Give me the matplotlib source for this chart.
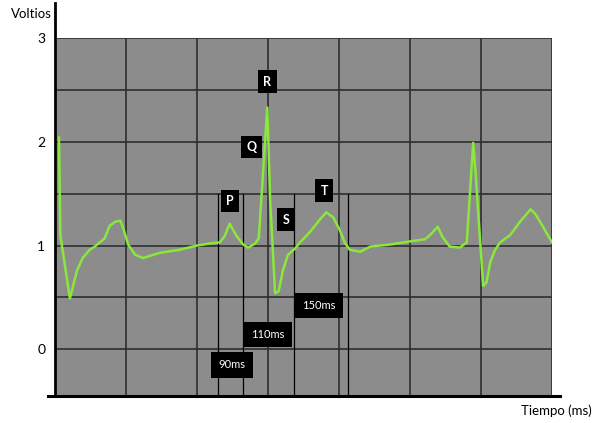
import numpy as np
import matplotlib.pyplot as plt
from matplotlib.lines import Line2D

# ECG trace (x in grid units of 100, volts)
t_ms = [5.6, 7.5, 21, 31, 39, 49, 56, 70, 77, 85, 92, 96, 103, 113, 124, 148, 176, 200,
        218, 232, 239, 246, 251, 256, 265, 272, 282, 287, 299, 303, 310, 315, 321, 328,
        338, 345, 359, 373, 382, 392, 401, 408, 415, 430, 444, 472, 500, 521, 528, 539,
        546, 556, 570, 580, 589, 593, 603, 608, 613, 620, 627, 641, 655, 670, 677, 690, 700]
volts = [2.04, 1.10, 0.49, 0.76, 0.88, 0.96, 0.99, 1.07, 1.19, 1.23, 1.24, 1.17, 1.01, 0.91,
         0.88, 0.93, 0.96, 1.00, 1.02, 1.03, 1.09, 1.21, 1.15, 1.09, 1.01, 0.98, 1.02, 1.07,
         2.33, 1.44, 0.54, 0.56, 0.76, 0.91, 0.97, 1.03, 1.13, 1.25, 1.32, 1.27, 1.15, 1.03,
         0.96, 0.94, 0.99, 1.01, 1.04, 1.06, 1.10, 1.18, 1.08, 0.99, 0.98, 1.03, 1.99, 1.64,
         0.61, 0.65, 0.84, 0.96, 1.03, 1.10, 1.23, 1.35, 1.30, 1.15, 1.03]

wave_names = ['R', 'Q', 'P', 'S', 'T']
wave_x = [299, 277, 246, 325, 379]
wave_y = [2.58, 1.95, 1.43, 1.25, 1.53]

interval_names = ['150ms', '110ms', '90ms']
interval_x = [372, 300, 249]
interval_y = [0.42, 0.14, -0.15]

marker_x = [230, 265, 337, 413]

W, H = 597, 423
fig = plt.figure(figsize=(W / 100, H / 100), dpi=100)
ax = fig.add_axes([55 / W, (H - 396) / H, (552 - 55) / W, (396 - 38) / H])
ax.set_facecolor('#8c8c8c')
ax.set_xlim(0, 700)
ax.set_ylim(-0.45, 3)

ax.set_xticks(range(0, 701, 100))
ax.set_yticks([0, 1, 2, 3])
ax.set_yticks(np.arange(0, 3.01, 0.5), minor=True)
ax.set_yticklabels(['0', '1', '2', '3'], fontsize=10, family='Lato')
ax.set_xticklabels([])
ax.tick_params(length=0, pad=7)
ax.tick_params(which='minor', length=0)
ax.grid(True, which='both', color='#2e2e2e', linewidth=1.2)
ax.set_axisbelow(True)
for s in ax.spines.values():
    s.set_visible(False)

for mx in marker_x:
    ax.plot([mx, mx], [1.5, -0.45], color='black', linewidth=0.9)

ax.plot(t_ms, volts, color='#8ae83c', linewidth=1.8, solid_joinstyle='round')

box = dict(boxstyle='square,pad=0.42', facecolor='black', edgecolor='none')
for name, x, y in zip(wave_names, wave_x, wave_y):
    ax.text(x, y, name, color='white', ha='center', va='center', fontsize=9,
            family='Lato', fontweight='bold', bbox=box)
box2 = dict(boxstyle='square,pad=0.65', facecolor='black', edgecolor='none')
for name, x, y in zip(interval_names, interval_x, interval_y):
    ax.text(x, y, name, color='white', ha='center', va='center', fontsize=8,
            family='Lato', bbox=box2)

# axis lines drawn in figure pixels
fig.add_artist(Line2D([55 / W, 55 / W], [(H - 3) / H, (H - 396) / H], color='black', linewidth=2))
fig.add_artist(Line2D([48 / W, 560 / W], [(H - 396) / H, (H - 396) / H], color='black', linewidth=2.2))

fig.text(52 / W, (H - 14) / H, 'Voltios', ha='right', va='center', fontsize=9.5, family='Lato')
fig.text(592 / W, (H - 411) / H, 'Tiempo (ms)', ha='right', va='center', fontsize=9.5, family='Lato')

fig.savefig('out.png', dpi=100)
